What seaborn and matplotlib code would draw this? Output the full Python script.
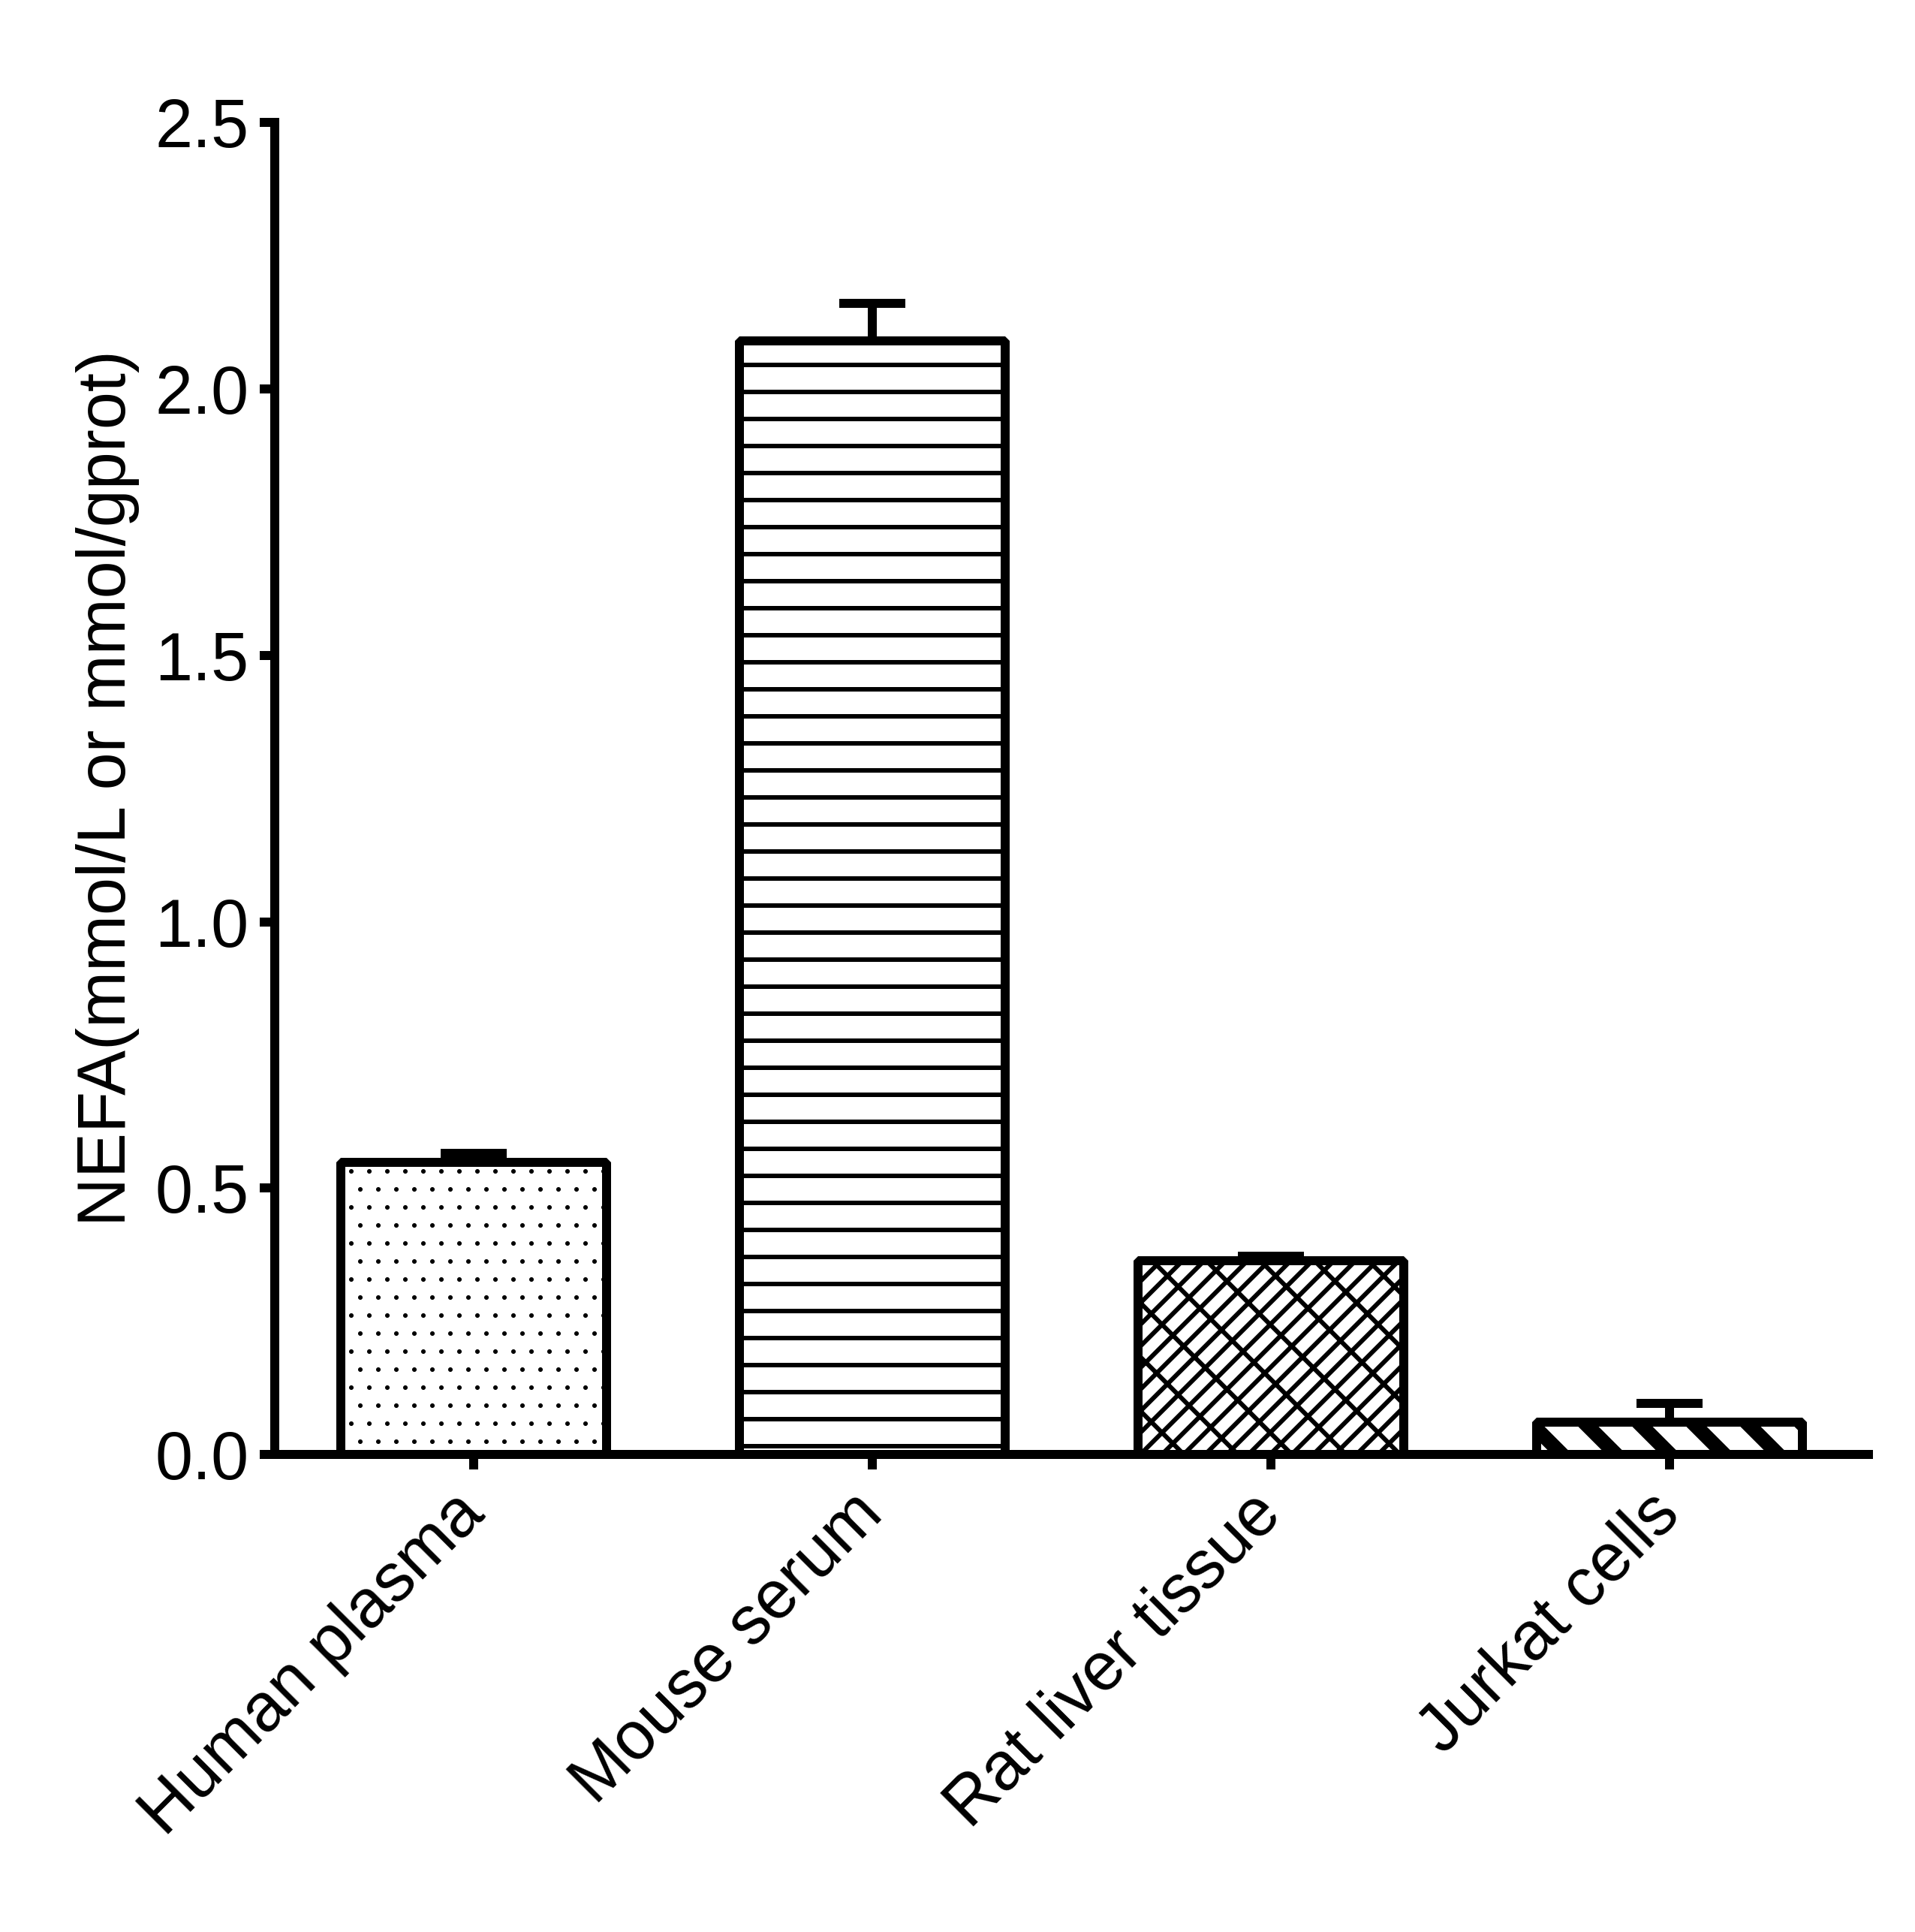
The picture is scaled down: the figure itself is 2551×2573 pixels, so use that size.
import numpy as np
import pandas as pd
import matplotlib
matplotlib.use("Agg")
import matplotlib.pyplot as plt
import seaborn as sns
from matplotlib.ticker import FormatStrFormatter

# datos
muestras = ["Human plasma", "Mouse serum", "Rat liver tissue", "Jurkat cells"]
nefa_media = [0.549, 2.089, 0.364, 0.061]
nefa_error = [0.016, 0.071, 0.008, 0.036]
tramas = ["...", "--", "/////" + "\\\\", "\\\\"]
grosor_trama = [0.2, 1.0, 1.0, 3.2]

y_ticks = [0.0, 0.5, 1.0, 1.5, 2.0, 2.5]
y_label = "NEFA(mmol/L or mmol/gprot)"

# estilo
sns.set_style("ticks")
plt.rcParams["font.family"] = ["Liberation Sans", "DejaVu Sans"]
plt.rcParams["hatch.color"] = "black"
plt.rcParams["hatch.linewidth"] = 1.0

DPI = 432
fig = plt.figure(figsize=(2551 / DPI, 2573 / DPI), dpi=DPI)
ax = fig.add_axes([0.14328, 0.24699, 0.83261, 0.68985])

df = pd.DataFrame({"muestra": muestras, "nefa": nefa_media})

sns.barplot(data=df, x="muestra", y="nefa", ax=ax, color="white",
            edgecolor="black", linewidth=2, width=0.667, errorbar=None,
            saturation=1)

for p, h, lw in zip(ax.patches, tramas, grosor_trama):
    p.set_facecolor("white")
    p.set_hatch(h)
    p.set_joinstyle("bevel")
    if hasattr(p, "set_hatch_linewidth"):
        p.set_hatch_linewidth(lw)

# barras de error (solo hacia arriba)
ax.errorbar(np.arange(len(muestras)), nefa_media,
            yerr=[np.zeros(len(muestras)), nefa_error],
            fmt="none", ecolor="black", elinewidth=2, capsize=7.33,
            capthick=2, zorder=1)

ax.set_xlim(-0.5, 3.5)
ax.set_ylim(0, 2.5)
ax.set_yticks(y_ticks)
ax.yaxis.set_major_formatter(FormatStrFormatter("%.1f"))

sns.despine(ax=ax)
for s in ["left", "bottom"]:
    ax.spines[s].set_linewidth(2)
    ax.spines[s].set_color("black")
    ax.spines[s].set_capstyle("projecting")

ax.tick_params(axis="both", direction="out", length=3.4, width=2,
               labelsize=15, colors="black")
ax.tick_params(axis="y", pad=2.3)
ax.tick_params(axis="x", pad=7.5)

ax.set_xlabel("")
ax.set_ylabel(y_label, fontsize=15, labelpad=3.3, color="black")
plt.setp(ax.get_xticklabels(), rotation=45, ha="right", va="center",
         rotation_mode="anchor")

fig.savefig("out.png", dpi=DPI, facecolor="white")
